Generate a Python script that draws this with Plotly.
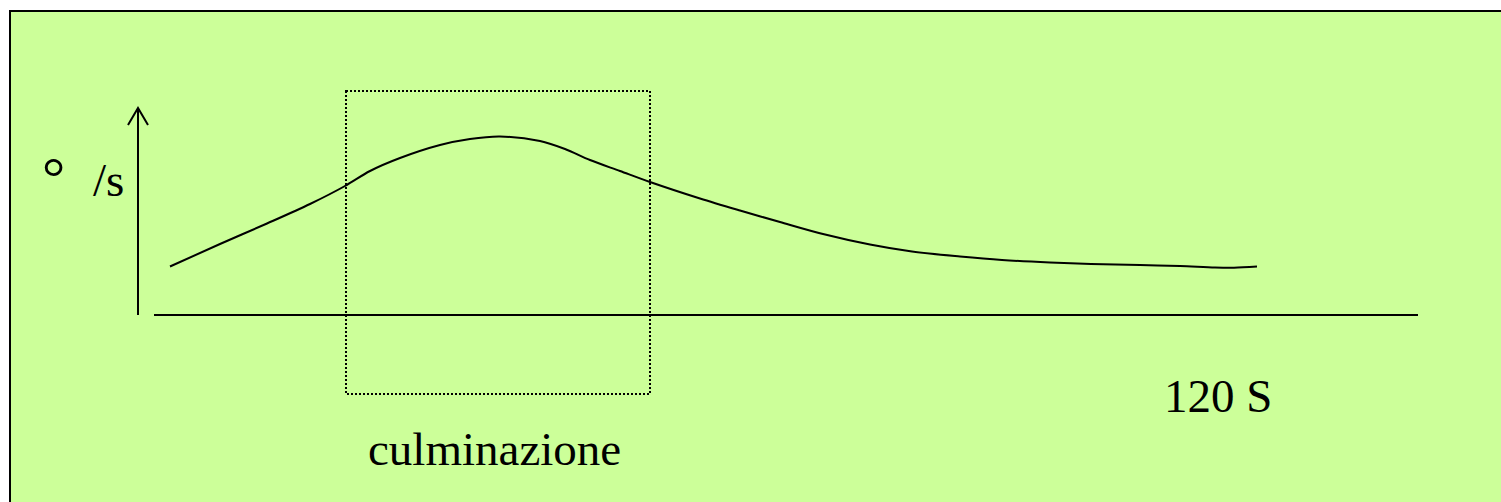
import plotly.graph_objects as go

# canvas size (px) and drawing units = px, y grows downwards
W, H = 1501, 502

# hand-drawn rate curve
curve_x = [170, 220, 267, 310, 345, 370, 400, 440, 470, 500, 540, 565,
           590, 620, 650, 700, 740, 780, 823, 870, 912, 960, 1002, 1050,
           1091, 1140, 1180, 1215, 1234, 1257]
curve_y = [266.5, 244, 223.5, 204, 186, 171, 158, 145, 139, 136.5, 141,
           149, 160, 171, 182, 198.5, 210.5, 222, 234, 244.5, 251.5, 256.5,
           260, 262.5, 264, 265, 266, 267.5, 267.7, 266.5]

# axes of the sketch
x_axis_x = [154, 1418]
x_axis_y = [315, 315]
y_axis_x = [138, 138]
y_axis_y = [315, 108]
arrow_x = [128, 138, 148]
arrow_y = [125, 108, 125]

# "culminazione" window
window_x = [346, 650]
window_y = [91, 394]

labels = ["°", "/s", "120 S", "culminazione"]
label_x = [53, 108, 1218, 494]
label_y = [177, 180, 396, 449]
label_size = [58, 47, 47, 47]

GREEN = "#CCFF99"
FONT = "Liberation Serif, Times New Roman, serif"

fig = go.Figure()

fig.add_shape(
    type="rect", xref="x", yref="y",
    x0=10, y0=11, x1=W + 100, y1=H + 100,
    fillcolor=GREEN, line={"color": "black", "width": 2},
    layer="below",
)
fig.add_shape(
    type="rect", xref="x", yref="y",
    x0=window_x[0], y0=window_y[0], x1=window_x[1], y1=window_y[1],
    line={"color": "black", "width": 2, "dash": "2px,2px"},
)

line_style = {"color": "black", "width": 2}
fig.add_trace(go.Scatter(x=x_axis_x, y=x_axis_y, mode="lines", line=line_style))
fig.add_trace(go.Scatter(x=y_axis_x, y=y_axis_y, mode="lines", line=line_style))
fig.add_trace(go.Scatter(x=arrow_x, y=arrow_y, mode="lines", line=line_style))
fig.add_trace(
    go.Scatter(
        x=curve_x, y=curve_y, mode="lines",
        line={"color": "black", "width": 2, "shape": "spline", "smoothing": 0.9},
    )
)

for txt, lx, ly, sz in zip(labels, label_x, label_y, label_size):
    fig.add_annotation(
        x=lx, y=ly, xref="x", yref="y", text=txt, showarrow=False,
        xanchor="center", yanchor="middle",
        font={"family": FONT, "size": sz, "color": "black"},
    )

fig.update_layout(
    width=W, height=H,
    margin={"l": 0, "r": 0, "t": 0, "b": 0},
    paper_bgcolor="white", plot_bgcolor="white",
    showlegend=False,
    xaxis={"range": [0, W], "visible": False, "fixedrange": True},
    yaxis={"range": [H, 0], "visible": False, "fixedrange": True},
)

# drop the page's default body margin so the figure sits at 0,0
fig.write_html(
    "out.html",
    config={"displayModeBar": False},
    post_script="document.body.style.margin='0';document.body.style.overflow='hidden';",
)
